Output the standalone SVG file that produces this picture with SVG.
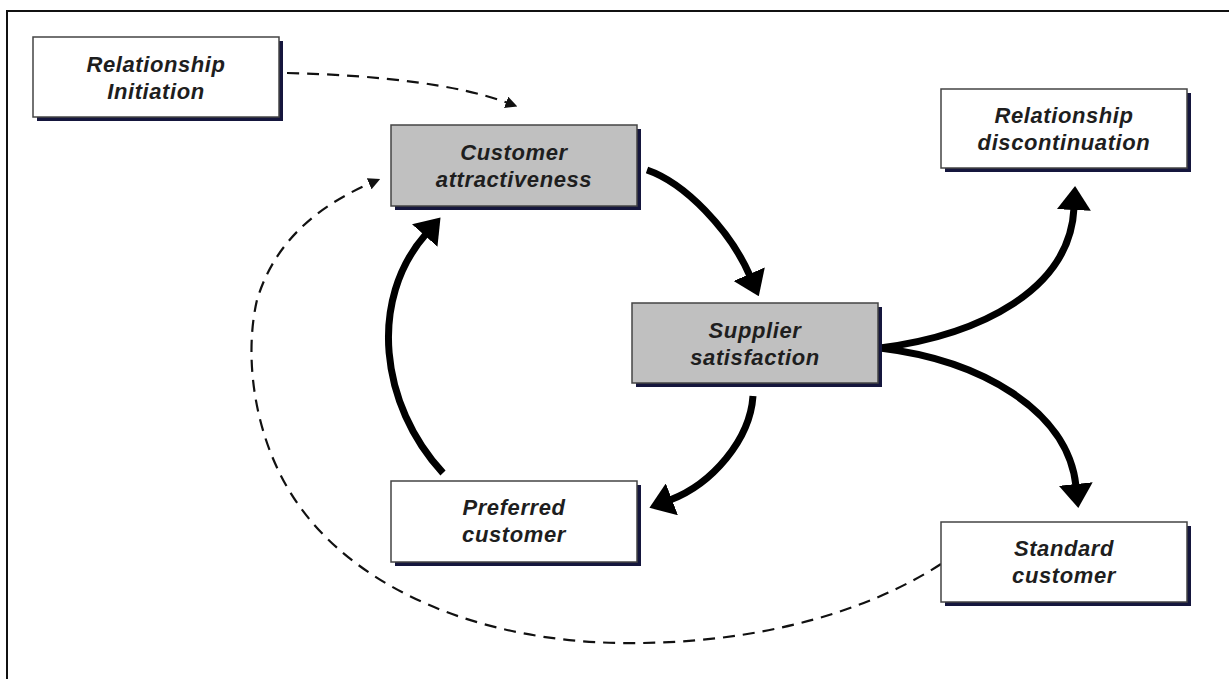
<svg xmlns="http://www.w3.org/2000/svg" width="1229" height="679" viewBox="0 0 1229 679">
<style>
.frame{fill:none;stroke:#111;stroke-width:2}
.shadow{fill:#15163d}
.box{fill:#fff;stroke:#444;stroke-width:1.5}
.gray{fill:#c0c0c0;stroke:#444;stroke-width:1.5}
.lbl{font-family:"Liberation Sans",Arial,sans-serif;font-weight:bold;font-style:italic;font-size:22px;letter-spacing:0.6px;fill:#1e1e1e;text-anchor:middle}
.thick{fill:none;stroke:#000;stroke-width:7;marker-end:url(#big)}
.dash{fill:none;stroke:#111;stroke-width:2.2;stroke-dasharray:12,8;marker-end:url(#small)}
</style>
<defs>
<marker id="big" viewBox="0 0 24 34" markerWidth="24" markerHeight="34" refX="2" refY="17" orient="auto" markerUnits="userSpaceOnUse">
<path d="M0,0 L24,17 L0,34 Z" fill="#000"/>
</marker>
<marker id="small" viewBox="0 0 12 12" markerWidth="12" markerHeight="12" refX="2" refY="6" orient="auto" markerUnits="userSpaceOnUse">
<path d="M0,0 L12,6 L0,12 Z" fill="#111"/>
</marker>
</defs>
<rect width="1229" height="679" fill="#fff"/>
<path class="frame" d="M7,679 L7,11 L1229,11"/>
<g id="connectors">
<path class="dash" d="M287,73 C380,75 460,85 508,103"/>
<path class="dash" d="M941,564 C870,610 760,645 620,643 C480,641 360,590 300,507 C255,445 243,360 257,300 C275,240 320,205 371,183"/>
<path class="thick" d="M647,170 C685,183 730,230 750,276"/>
<path class="thick" d="M753,396 C750,440 712,484 670,500"/>
<path class="thick" d="M443,473 C380,405 368,300 426,234"/>
<path class="thick" d="M880,348 C980,335 1070,290 1074,208"/>
<path class="thick" d="M880,348 C980,360 1068,410 1076,486"/>
</g>
<g id="relationship-initiation">
<rect class="shadow" x="37" y="41" width="246" height="80"/>
<rect class="box" x="33" y="37" width="246" height="80"/>
<text class="lbl" x="156" y="72">Relationship</text>
<text class="lbl" x="156" y="99">Initiation</text>
</g>
<g id="customer-attractiveness">
<rect class="shadow" x="395" y="129" width="246" height="81"/>
<rect class="gray" x="391" y="125" width="246" height="81"/>
<text class="lbl" x="514" y="160">Customer</text>
<text class="lbl" x="514" y="187">attractiveness</text>
</g>
<g id="supplier-satisfaction">
<rect class="shadow" x="636" y="307" width="246" height="80"/>
<rect class="gray" x="632" y="303" width="246" height="80"/>
<text class="lbl" x="755" y="338">Supplier</text>
<text class="lbl" x="755" y="365">satisfaction</text>
</g>
<g id="preferred-customer">
<rect class="shadow" x="395" y="485" width="246" height="81"/>
<rect class="box" x="391" y="481" width="246" height="81"/>
<text class="lbl" x="514" y="515">Preferred</text>
<text class="lbl" x="514" y="542">customer</text>
</g>
<g id="relationship-discontinuation">
<rect class="shadow" x="945" y="93" width="246" height="79"/>
<rect class="box" x="941" y="89" width="246" height="79"/>
<text class="lbl" x="1064" y="123">Relationship</text>
<text class="lbl" x="1064" y="150">discontinuation</text>
</g>
<g id="standard-customer">
<rect class="shadow" x="945" y="526" width="246" height="80"/>
<rect class="box" x="941" y="522" width="246" height="80"/>
<text class="lbl" x="1064" y="556">Standard</text>
<text class="lbl" x="1064" y="583">customer</text>
</g>
</svg>
